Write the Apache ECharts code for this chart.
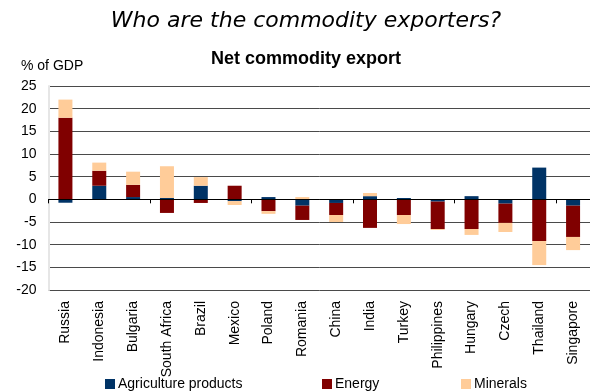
<!DOCTYPE html>
<html><head><meta charset="utf-8">
<script src="https://cdn.jsdelivr.net/npm/echarts@6/dist/echarts.min.js"></script>
<style>html,body{margin:0;padding:0;background:#fff}#c{width:590px;height:391px}</style>
</head><body><div id="c"></div>
<script>
var categories = ['Russia','Indonesia','Bulgaria','South Africa','Brazil','Mexico','Poland','Romania','China','India','Turkey','Philippines','Hungary','Czech','Thailand','Singapore'];
var agriculture = [-0.75, 3.0, 0.5, 0.3, 3.0, -0.4, 0.5, -1.4, -0.8, 0.7, 0.3, -0.5, 0.7, -0.95, 7.0, -1.4];
var energy = [18.0, 3.3, 2.7, -3.0, -0.8, 3.0, -2.6, -3.15, -2.65, -6.3, -3.45, -6.05, -6.55, -4.25, -9.2, -6.9];
var minerals = [4.0, 1.8, 2.9, 7.0, 1.9, -0.85, -0.6, 0.5, -1.55, 0.7, -2.0, -0.2, -1.3, -2.0, -5.3, -2.9];
var seriesNames = ['Agriculture products','Energy','Minerals'];
var yTicks = {min: -20, max: 25, interval: 5};

var colors = ['#003366','#800000','#FFCC99'];
var chart = echarts.init(document.getElementById('c'));
var font = 'Liberation Sans, Arial, sans-serif';
chart.setOption({
  animation: false,
  graphic: [
    {type:'text', style:{x:306, y:21, text:'Who are the commodity exporters?', font:'italic 22px "DejaVu Sans"', fill:'#000', textAlign:'center', textVerticalAlign:'middle'}},
    {type:'text', style:{x:306, y:59, text:'Net commodity export', font:'bold 18px "Liberation Sans"', fill:'#000', textAlign:'center', textVerticalAlign:'middle'}},
    {type:'text', style:{x:21, y:66, text:'% of GDP', font:'14px "Liberation Sans"', fill:'#000', textAlign:'left', textVerticalAlign:'middle'}}
  ],
  legend: [
    {data:[seriesNames[0]], left:105, top:377, padding:0, itemWidth:10, itemHeight:10, icon:'rect', itemGap:0, textStyle:{fontSize:14, fontFamily:font, color:'#000', padding:[0,0,0,-2]}},
    {data:[seriesNames[1]], left:322, top:377, padding:0, itemWidth:10, itemHeight:10, icon:'rect', itemGap:0, textStyle:{fontSize:14, fontFamily:font, color:'#000', padding:[0,0,0,-2]}},
    {data:[seriesNames[2]], left:461, top:377, padding:0, itemWidth:10, itemHeight:10, icon:'rect', itemGap:0, textStyle:{fontSize:14, fontFamily:font, color:'#000', padding:[0,0,0,-2]}}
  ],
  grid: {left:48.5, top:86, width:548.5, height:204, containLabel:false},
  xAxis: [
    {type:'category', data:categories, axisLine:{onZero:true, lineStyle:{color:'#000', width:1}}, axisTick:{show:true, length:4, lineStyle:{color:'#000'}}, axisLabel:{show:false}, z:10},
    {type:'category', data:categories, position:'bottom', axisLine:{show:false}, axisTick:{show:false}, axisLabel:{rotate:90, margin:11, fontSize:14, fontFamily:font, color:'#000', interval:0}}
  ],
  yAxis: {type:'value', min:yTicks.min, max:yTicks.max, interval:yTicks.interval,
    axisLine:{show:true, lineStyle:{color:'#e6e6e6', width:2}}, axisTick:{show:false},
    axisLabel:{fontSize:14, fontFamily:font, color:'#000', margin:12},
    splitLine:{lineStyle:{color:'#4a4a4a', width:1}}},
  series: [
    {name:seriesNames[0], type:'bar', stack:'a', data:agriculture, barWidth:14, itemStyle:{color:colors[0]}},
    {name:seriesNames[1], type:'bar', stack:'a', data:energy, barWidth:14, itemStyle:{color:colors[1]}},
    {name:seriesNames[2], type:'bar', stack:'a', data:minerals, barWidth:14, itemStyle:{color:colors[2]}}
  ]
});
</script></body></html>
